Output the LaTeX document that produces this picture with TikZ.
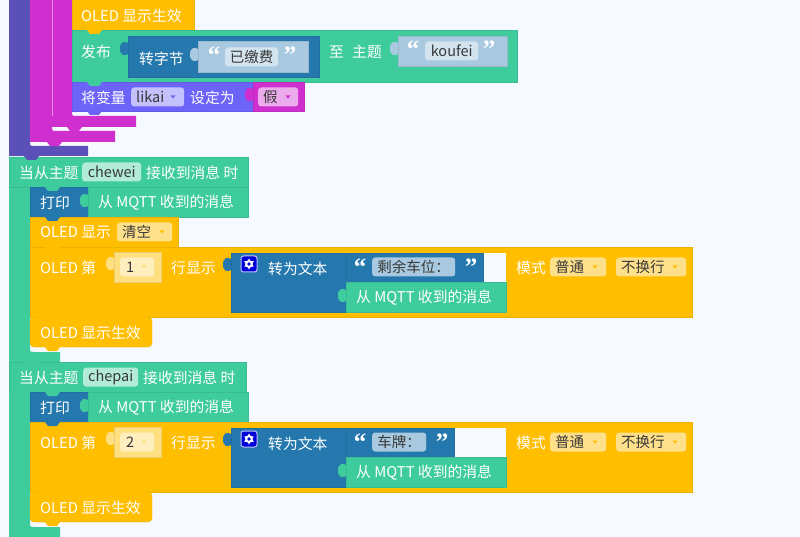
\documentclass[tikz,border=0pt]{standalone}
\usepackage{fontspec}
\setmainfont{Noto Sans CJK SC}
\newfontfamily\quotefont{Liberation Serif}
\usepackage{xcolor}
\usetikzlibrary{calc, positioning}

\definecolor{pagebg}{HTML}{F6F9FF}
\definecolor{oledyel}{HTML}{FFBF00}
\definecolor{mqttgrn}{HTML}{3FCC9C}
\definecolor{textblu}{HTML}{2578AE}
\definecolor{loopind}{HTML}{5A50B8}
\definecolor{logicmag}{HTML}{D02FD0}
\definecolor{varpur}{HTML}{6C63F8}
\definecolor{strblu}{HTML}{A8C9DF}
\definecolor{strfld}{HTML}{D3E4EF}
\definecolor{yelfld}{HTML}{FFE08A}
\definecolor{numfld}{HTML}{FFEFBF}
\definecolor{numblk}{HTML}{FFDF80}
\definecolor{grnfld}{HTML}{B2EBD6}
\definecolor{purfld}{HTML}{C5C1FC}
\definecolor{magfld}{HTML}{ECABEC}

\tikzset{
	blk/.style = {anchor=north west, draw=#1!92!black, fill=#1, line width=0.4pt, inner sep=0pt, outer sep=0pt},
	txt/.style = {anchor=west, yshift=-0.7pt, inner sep=0pt, text=white, font=\fontsize{14.8}{15}\selectfont},
	fld/.style = {anchor=west, fill=#1, rounded corners=3pt, inner sep=0pt, text=black!78, minimum height=19, font=\fontsize{14.5}{15}\selectfont},
	drop/.style = {text width=#1, minimum width=#1, align=left},
	qmark/.style = {anchor=center, inner sep=0pt, text=white, font=\fontsize{25}{25}\quotefont\bfseries}
}

% tab under a statement block
\newcommand{\blocktab}[3]{
	\fill[#1] ({#2+15},#3) -- ({#2+18},{#3+4}) -- ({#2+27},{#3+4}) -- ({#2+30},#3) -- cycle;
}
% tab on the left of a value block
\newcommand{\inputtab}[3]{
	\fill[#1] (#2,{#3+1}) .. controls ({#2-3},{#3-1}) and ({#2-8},{#3-1}) .. ({#2-8},{#3+6.5}) .. controls ({#2-8},{#3+14}) and ({#2-3},{#3+14}) .. (#2,{#3+12}) -- cycle;
}
\newcommand{\droparrow}[3]{
	\fill[#1] ({#2-2.5},{#3-1.5}) -- ({#2+2.5},{#3-1.5}) -- (#2,{#3+1.5}) -- cycle;
}
% bar with a foot round a block stack
\newcommand{\cbar}[7]{
	\fill[#1] (#2,#3) -- (#4,#3) -- (#4,{#5-5}) .. controls (#4,#5) .. ({#4+5},#5) -- (#7,#5) -- (#7,#6) -- (#2,#6) -- cycle;
}
\newcommand{\gearicon}[2]{
	\fill[white!75!blue, rounded corners=3pt] ({#1-8.5},{#2-8.5}) rectangle ({#1+8.5},{#2+8.5});
	\fill[blue!85!black, rounded corners=2.5pt] ({#1-7.5},{#2-7.5}) rectangle ({#1+7.5},{#2+7.5});
	\foreach \a in {30,90} {
		\fill[white] ($(#1,#2)+(\a:5.5)$) -- ($(#1,#2)+(\a+120:5.5)$) -- ($(#1,#2)+(\a+240:5.5)$) -- cycle;
	}
	\fill[white] (#1,#2) circle (3.8);
	\fill[blue!85!black] (#1,#2) circle (1.9);
}
% one "OLED row n" block with its text conversion
\newcommand{\oledrow}[6]{
	\node[blk=oledyel, minimum width=662, minimum height=70] at (30,#2) (#1row) {};
	\inputtab{numblk}{114}{#2+10}
	\node[blk=numblk, minimum width=47, minimum height=30] at (114,#2+5) (#1numblk) {};
	\node[fld=numfld, drop=34] at (120,#2+20) (#1num) {\hspace{6pt}#3};
	\droparrow{oledyel!40!numfld}{144}{#2+20}
	\inputtab{textblu}{231}{#2+11}
	\node[blk=textblu, minimum width=115, minimum height=59] at (231,#2+6) (#1conv) {};
	\node[blk=pagebg, draw=none, minimum width=160, minimum height=29] at (346,#2+6) (#1gap) {};
	\node[blk=textblu, minimum width=#5, minimum height=29] at (346,#2+6) (#1str) {};
	\inputtab{mqttgrn}{346}{#2+42}
	\node[blk=mqttgrn, minimum width=160, minimum height=30] at (346,#2+35) (#1msg) {};
	\node[txt] at (40,#2+20) (#1oled) {OLED 第};
	\node[txt] at (171,#2+20) (#1show) {行显示};
	\gearicon{249}{#2+17}
	\node[txt] at (268,#2+21) (#1convt) {转为文本};
	\node[qmark] at (360,#2+20) (#1qa) {“};
	\node[fld=strblu, minimum width=#6] at (372,#2+20) (#1val) {#4};
	\node[qmark] at ({372+#6+16},#2+20) (#1qb) {”};
	\node[txt] at (356,#2+50) (#1msgt) {从 MQTT 收到的消息};
	\node[txt] at (516,#2+20) (#1mode) {模式};
	\node[fld=yelfld, drop=56] at (550,#2+20) (#1modea) {\hspace{5pt}普通};
	\droparrow{oledyel}{595}{#2+20}
	\node[fld=yelfld, drop=70] at (616,#2+20) (#1modeb) {\hspace{5pt}不换行};
	\droparrow{oledyel}{675}{#2+20}
}
% print block
\newcommand{\printrow}[2]{
	\node[blk=textblu, minimum width=58, minimum height=30] at (30,#2) (#1print) {};
	\inputtab{mqttgrn}{88}{#2+7}
	\node[blk=mqttgrn, minimum width=160, minimum height=30] at (88,#2) (#1pmsg) {};
	\node[txt] at (40,#2+15) (#1printt) {打印};
	\node[txt] at (98,#2+15) (#1pmsgt) {从 MQTT 收到的消息};
}

\begin{document}
\begin{tikzpicture}[x=1pt, y=-1pt]
	\fill[pagebg] (0,0) rectangle (800,537);
	\useasboundingbox (0,0) rectangle (800,537);

	% outer bars at the top
	\cbar{loopind}{9}{-2}{30}{146}{156}{88}
	\cbar{logicmag}{30}{-2}{52}{131}{142}{115}
	\cbar{logicmag}{52}{-2}{72}{116}{127}{136}
	\fill[logicmag!55!white] (51.7,-2) rectangle (52.3,116);
	\blocktab{logicmag}{32}{142}
	\blocktab{logicmag}{52}{127}

	% top stack
	\node[blk=oledyel, minimum width=122, minimum height=31] at (72,-1) (effa) {};
	\node[blk=mqttgrn, minimum width=445, minimum height=52] at (72,30) (pub) {};
	\node[blk=varpur, minimum width=181, minimum height=29] at (72,82) (setvar) {};
	\inputtab{logicmag}{253}{88}
	\node[blk=logicmag, minimum width=51, minimum height=29] at (253,82) (false) {};
	\blocktab{oledyel}{72}{30}
	\blocktab{mqttgrn}{72}{82}
	\blocktab{varpur}{72}{111}
	\node[txt] at (81,15) (effat) {OLED 显示生效};
	\node[txt] at (81,51) (pubt) {发布};
	\inputtab{textblu}{128}{42}
	\node[blk=textblu, minimum width=191, minimum height=41] at (128,36) (bytes) {};
	\node[txt] at (139,58) (bytest) {转字节};
	\inputtab{strblu}{198}{48}
	\node[blk=strblu, minimum width=110, minimum height=31] at (198,41) (paid) {};
	\node[qmark] at (214,55) (qa) {“};
	\node[fld=strfld, minimum width=53] at (225,57) (paidt) {已缴费};
	\node[qmark] at (290,55) (qb) {”};
	\node[txt] at (329,51) (tot) {至};
	\node[txt] at (352,51) (topict) {主题};
	\inputtab{strblu}{398}{42}
	\node[blk=strblu, minimum width=109, minimum height=30] at (398,36) (koufei) {};
	\node[qmark] at (413,49) (qc) {“};
	\node[fld=strfld, minimum width=53] at (425,51) (koufeit) {koufei};
	\node[qmark] at (489,49) (qd) {”};
	\node[txt] at (81,97) (setvart) {将变量};
	\node[fld=purfld, drop=53] at (131,97) (likai) {\hspace{5pt}likai};
	\droparrow{varpur}{173}{97}
	\node[txt] at (190,97) (sett) {设定为};
	\node[fld=magfld, drop=40] at (258,97) (falset) {\hspace{5pt}假};
	\droparrow{logicmag}{288}{97}

	% topic chewei
	\cbar{mqttgrn}{9}{157}{30}{352}{362}{60}
	\node[blk=mqttgrn, minimum width=239, minimum height=30] at (9,157) (hata) {};
	\blocktab{loopind}{9}{156}
	\node[txt] at (19,172) (hatat) {当从主题};
	\node[fld=grnfld, minimum width=59] at (82,172) (chewei) {chewei};
	\node[txt] at (146,172) (hatbt) {接收到消息 时};
	\printrow{a}{187}
	\blocktab{mqttgrn}{30}{187}
	\node[blk=oledyel, minimum width=148, minimum height=30] at (30,217) (clear) {};
	\blocktab{textblu}{30}{217}
	\node[txt] at (40,232) (cleart) {OLED 显示};
	\node[fld=yelfld, drop=55] at (117,232) (clearf) {\hspace{5pt}清空};
	\droparrow{oledyel}{162}{232}
	\oledrow{a}{247}{1}{剩余车位：}{137}{83}
	\blocktab{oledyel}{30}{247}
	\draw[oledyel!92!black, fill=oledyel, line width=0.4pt, rounded corners=4pt] (30,317) -- (30,347) -- (152,347) -- (152,317) -- cycle;
	\blocktab{oledyel}{30}{317}
	\blocktab{oledyel}{30}{347}
	\node[txt] at (40,332) (effb) {OLED 显示生效};

	% topic chepai
	\node[blk=mqttgrn, minimum width=237, minimum height=30] at (9,362) (hatb) {};
	\blocktab{mqttgrn}{9}{362}
	\cbar{mqttgrn}{9}{392}{30}{527}{539}{60}
	\node[txt] at (19,377) (hatct) {当从主题};
	\node[fld=grnfld, minimum width=55] at (83,377) (chepai) {chepai};
	\node[txt] at (143,377) (hatdt) {接收到消息 时};
	\printrow{b}{392}
	\blocktab{mqttgrn}{30}{392}
	\oledrow{b}{422}{2}{车牌：}{108}{54}
	\blocktab{textblu}{30}{422}
	\draw[oledyel!92!black, fill=oledyel, line width=0.4pt, rounded corners=4pt] (30,492) -- (30,522) -- (152,522) -- (152,492) -- cycle;
	\blocktab{oledyel}{30}{492}
	\blocktab{oledyel}{30}{522}
	\node[txt] at (40,507) (effc) {OLED 显示生效};
\end{tikzpicture}
\end{document}
